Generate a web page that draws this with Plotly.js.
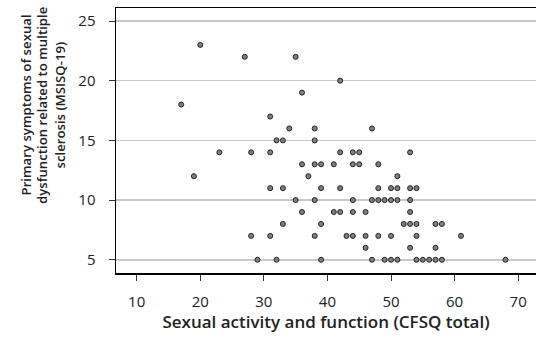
<!DOCTYPE html>
<html>
<head>
<meta charset="utf-8">
<script src="https://cdn.plot.ly/plotly-3.0.1.min.js"></script>
<style>html,body{margin:0;padding:0;background:#fff;}#chart{width:536px;height:338px;}</style>
</head>
<body>
<div id="chart"></div>
<script>
var cfsqTotal = [20,27,35,42,36,17,31,34,38,47,32,33,38,23,28,31,42,44,45,53,36,38,39,41,44,45,48,37,51,19,31,33,39,42,48,50,51,53,54,35,38,44,47,48,49,50,51,53,36,41,42,44,46,53,33,39,52,53,54,57,58,28,31,38,43,44,46,48,50,54,61,46,53,57,29,32,39,47,49,50,51,54,55,56,57,58,68];
var msisq19 = [23,22,22,20,19,18,17,16,16,16,15,15,15,14,14,14,14,14,14,14,13,13,13,13,13,13,13,12,12,12,11,11,11,11,11,11,11,11,11,10,10,10,10,10,10,10,10,10,9,9,9,9,9,9,8,8,8,8,8,8,8,7,7,7,7,7,7,7,7,7,7,6,6,6,5,5,5,5,5,5,5,5,5,5,5,5,5];
var xTicks = [10,20,30,40,50,60,70];
var yTicks = [5,10,15,20,25];
var xTitle = 'Sexual activity and function (CFSQ total)';
var yTitleLines = ['Primary symptoms of sexual', 'dysfunction related to multiple', 'sclerosis (MSISQ-19)'];

var font = {family: 'Open Sans, sans-serif', size: 15, color: '#222'};
var titleFont = {family: 'Open Sans, sans-serif', size: 13.2, weight: 600, color: '#222'};
var lineX = [-0.2155, -0.1762, -0.1345];
var annotations = yTitleLines.map(function (t, i) {
  return {
    xref: 'paper', yref: 'paper', x: lineX[i], y: 0.634, xanchor: 'center', yanchor: 'middle',
    textangle: -90, showarrow: false, text: t, font: titleFont
  };
});

Plotly.newPlot('chart', [{
  type: 'scatter', mode: 'markers', x: cfsqTotal, y: msisq19,
  marker: {size: 5, color: '#808080', line: {color: '#222', width: 1}},
  hoverinfo: 'x+y'
}], {
  width: 536, height: 338,
  margin: {l: 116, r: 0, t: 8, b: 65},
  paper_bgcolor: '#fff', plot_bgcolor: '#fff',
  font: font,
  showlegend: false,
  xaxis: {
    range: [6.75, 72.8], tickvals: xTicks, ticktext: xTicks.map(String),
    showgrid: false, zeroline: false, showline: true, linecolor: '#000', linewidth: 1.5,
    mirror: true, ticks: 'outside', ticklen: 6, tickcolor: '#333', tickwidth: 1,
    ticklabelstandoff: 8,
    title: {text: xTitle, font: {family: 'Open Sans, sans-serif', size: 17, weight: 600, color: '#222'}, standoff: 6}
  },
  yaxis: {
    range: [3.89, 26.09], tickvals: yTicks, ticktext: yTicks.map(String),
    showgrid: true, gridcolor: '#c8c8c8', gridwidth: 1.5, zeroline: false,
    showline: true, linecolor: '#000', linewidth: 1.5,
    ticks: 'outside', ticklen: 6, tickcolor: '#333', tickwidth: 1,
    ticklabelstandoff: 10
  },
  annotations: annotations
}, {displayModeBar: false, staticPlot: true});
</script>
</body>
</html>
